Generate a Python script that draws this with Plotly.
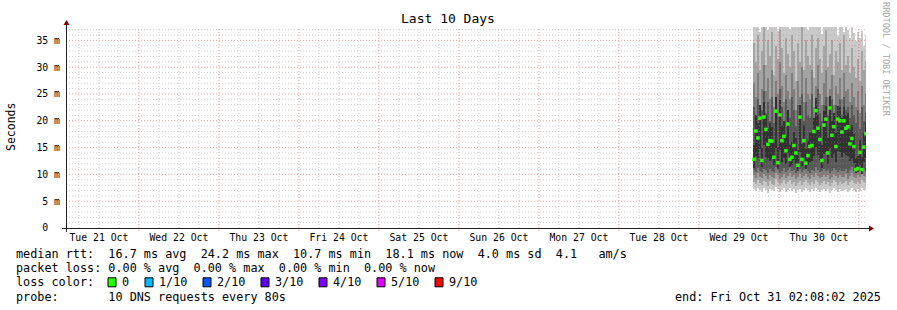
import plotly.graph_objects as go
import pandas as pd

# ---------------- DATA ----------------
range_start = "2025-10-21 02:08:02"
range_end = "2025-10-31 02:08:02"
label_days = ["2025-10-21", "2025-10-22", "2025-10-23", "2025-10-24", "2025-10-25",
              "2025-10-26", "2025-10-27", "2025-10-28", "2025-10-29", "2025-10-30"]
day_labels = ["Tue 21 Oct", "Wed 22 Oct", "Thu 23 Oct", "Fri 24 Oct", "Sat 25 Oct",
              "Sun 26 Oct", "Mon 27 Oct", "Tue 28 Oct", "Wed 29 Oct", "Thu 30 Oct"]
y_tick_vals = [0, 5, 10, 15, 20, 25, 30, 35]
y_tick_text = ["0\u00a0\u00a0", "5 m", "10 m", "15 m", "20 m", "25 m", "30 m", "35 m"]

data_start = "2025-10-29 16:12:00"
step_minutes = 36

# median rtt per column (ms)
median = [12.8, 18.1, 16.8, 20.5, 12.6, 20.7, 18.4, 15.6, 16.3, 16.2, 13.2, 21.8, 12.2, 21.1,
          16.3, 17.1, 14.4, 19.4, 12.8, 13.2, 15.4, 14.0, 11.7, 20.7, 12.8, 16.3, 12.1, 13.5,
          15.2, 15.4, 18.0, 21.9, 18.6, 16.5, 12.6, 19.2, 20.3, 14.0, 22.4, 17.3, 18.9, 15.2,
          20.3, 20.0, 17.9, 20.0, 18.6, 18.9, 15.7, 16.7, 15.2, 10.9, 11.1, 14.1, 10.9, 15.1, 17.6]

# smoke: sorted ping pairs (outermost p0/p9 ... innermost p4/p5), ms
p0 = [7.2, 6.9, 7.5, 7.0, 6.8, 7.4, 7.1, 6.6, 7.3, 7.0, 6.9, 7.6, 7.2, 6.7, 7.0, 7.4, 6.8, 7.1, 7.5,
      6.9, 7.2, 6.6, 7.0, 7.3, 6.8, 7.1, 7.4, 7.0, 6.7, 7.2, 6.9, 7.5, 7.1, 6.8, 7.0, 7.3, 6.9, 7.2,
      6.6, 7.0, 7.4, 7.1, 6.8, 7.2, 6.9, 7.0, 7.3, 6.7, 7.1, 7.5, 7.0, 6.8, 7.2, 6.9, 7.4, 7.1, 7.0]
p9 = [38, 38, 38, 36.5, 38, 38, 38, 37, 38, 38, 38, 38, 36.8, 38, 38, 38, 38, 38, 37.2, 38, 38,
      38, 38, 38, 38, 38, 38, 37.0, 38, 38, 38, 38, 38, 38, 36.2, 38, 38, 38, 38, 38, 37.5, 38,
      35.8, 38, 38, 36.5, 38, 37.0, 35.4, 38, 36.4, 34.8, 36.6, 35.5, 36.8, 33.9, 36.0]
p1 = [8.6, 8.2, 9.0, 8.4, 8.0, 8.8, 8.5, 7.9, 8.7, 8.3, 8.1, 9.1, 8.6, 8.0, 8.4, 8.9, 8.2, 8.5, 9.0,
      8.3, 8.6, 7.9, 8.4, 8.8, 8.1, 8.5, 8.9, 8.4, 8.0, 8.6, 8.3, 9.0, 8.5, 8.1, 8.4, 8.7, 8.3, 8.6,
      7.9, 8.4, 8.9, 8.5, 8.1, 8.6, 8.3, 8.4, 8.8, 8.0, 8.5, 9.0, 8.4, 8.2, 8.6, 8.3, 8.9, 8.5, 8.4]
p8 = [34.5, 31.0, 36.0, 29.5, 33.0, 37.5, 30.5, 35.0, 32.0, 36.5, 28.5, 34.0, 31.5, 37.0, 33.5,
      29.0, 35.5, 32.5, 30.0, 36.0, 33.0, 27.5, 34.5, 31.0, 37.5, 29.5, 35.0, 32.0, 30.5, 36.0,
      28.0, 33.5, 35.5, 31.5, 29.0, 34.0, 37.0, 30.0, 32.5, 35.0, 28.5, 33.0, 31.0, 34.5, 29.5,
      36.0, 30.5, 32.0, 29.0, 33.5, 30.0, 28.0, 31.5, 27.5, 33.0, 29.5, 31.0]
p2 = [9.8, 9.4, 10.2, 9.6, 9.3, 10.0, 9.7, 9.2, 9.9, 9.5, 9.4, 10.3, 9.8, 9.2, 9.6, 10.1, 9.4, 9.7,
      10.2, 9.5, 9.8, 9.1, 9.6, 10.0, 9.3, 9.7, 10.1, 9.6, 9.2, 9.8, 9.5, 10.2, 9.7, 9.3, 9.6, 9.9,
      9.5, 9.8, 9.1, 9.6, 10.1, 9.7, 9.3, 9.8, 9.5, 9.6, 10.0, 9.2, 9.7, 10.2, 9.6, 9.4, 9.8, 9.5,
      10.1, 9.7, 9.6]
p7 = [27.0, 24.5, 29.0, 23.0, 26.0, 30.5, 25.5, 28.0, 24.0, 29.5, 22.5, 27.5, 25.0, 31.0, 26.5,
      23.5, 28.5, 25.5, 24.0, 29.0, 26.0, 22.0, 27.5, 24.5, 30.0, 23.5, 28.0, 25.0, 24.0, 29.5,
      22.5, 26.5, 30.5, 25.0, 23.0, 27.0, 29.5, 24.5, 26.0, 28.5, 23.0, 26.5, 25.0, 28.0, 24.0,
      29.0, 25.5, 26.0, 23.5, 27.0, 24.5, 22.5, 25.5, 21.5, 26.5, 23.0, 25.0]
p3 = [10.9, 10.5, 11.2, 10.7, 10.4, 11.1, 10.8, 10.3, 11.0, 10.6, 10.5, 11.3, 10.9, 10.3, 10.7,
      11.2, 10.5, 10.8, 11.3, 10.6, 10.9, 10.2, 10.7, 11.1, 10.4, 10.8, 11.2, 10.7, 10.3, 10.9,
      10.6, 11.3, 10.8, 10.4, 10.7, 11.0, 10.6, 10.9, 10.2, 10.7, 11.2, 10.8, 10.4, 10.9, 10.6,
      10.7, 11.1, 10.3, 10.8, 11.3, 10.7, 10.5, 10.9, 10.6, 11.2, 10.8, 10.7]
p6 = [22.5, 21.0, 24.0, 20.5, 22.0, 25.5, 21.5, 23.5, 20.0, 24.5, 19.5, 23.0, 21.5, 26.0, 22.5,
      20.0, 24.0, 21.5, 20.5, 24.5, 22.0, 19.0, 23.0, 20.5, 25.0, 20.0, 23.5, 21.0, 20.5, 25.0,
      19.5, 22.5, 26.0, 21.5, 20.0, 23.0, 24.5, 21.0, 22.5, 24.0, 20.0, 23.0, 21.5, 24.0, 21.0,
      24.5, 22.0, 22.5, 20.5, 23.0, 21.0, 19.5, 22.0, 18.5, 22.5, 20.0, 21.5]
p4 = [11.2, 13.5, 13.0, 14.8, 11.3, 15.5, 13.2, 12.8, 12.5, 12.9, 11.8, 15.0, 11.0, 14.6, 12.4,
      13.0, 12.0, 14.0, 11.4, 11.7, 12.6, 12.0, 10.6, 14.2, 11.5, 12.8, 11.0, 11.8, 12.3, 12.5,
      13.4, 15.2, 13.6, 12.7, 11.2, 13.9, 14.1, 11.9, 15.0, 13.0, 13.8, 12.4, 14.3, 14.1, 13.2,
      14.0, 13.6, 13.5, 12.5, 12.9, 12.2, 10.2, 10.4, 11.8, 10.1, 12.3, 13.0]
p5 = [15.5, 21.0, 19.5, 23.0, 15.0, 23.5, 21.0, 18.5, 19.5, 18.8, 16.0, 24.5, 15.2, 23.8, 19.0,
      20.0, 17.2, 22.0, 15.5, 16.0, 18.0, 16.8, 14.5, 23.0, 15.6, 19.2, 14.8, 16.3, 17.8, 18.0,
      20.5, 24.2, 21.0, 19.0, 15.5, 21.8, 22.8, 16.8, 24.6, 20.0, 21.5, 17.8, 22.8, 22.5, 20.5,
      22.6, 21.0, 21.4, 18.2, 19.3, 17.6, 13.0, 13.5, 16.5, 13.2, 17.8, 19.8]

legend_lines = [
    "median rtt:  16.7 ms avg  24.2 ms max  10.7 ms min  18.1 ms now  4.0 ms sd  4.1   am/s",
    "packet loss: 0.00 % avg  0.00 % max  0.00 % min  0.00 % now",
]
loss_labels = ["0", "1/10", "2/10", "3/10", "4/10", "5/10", "9/10"]
loss_colors = ["#26ff00", "#00b8ff", "#0059ff", "#5e00ff", "#7e00ff", "#dd00ff", "#ff0000"]
probe_text = "probe:       10 DNS requests every 80s"
end_text = "end: Fri Oct 31 02:08:02 2025"
title_text = "Last 10 Days"
watermark = "RRDTOOL / TOBI OETIKER"

# ---------------- LAYOUT ----------------
W, H = 897, 310
ML, MR, MT, MB = 66, 31, 27, 82
PW = W - ML - MR
PH = H - MT - MB
MONO = "DejaVu Sans Mono"


def fx(x):
    return (x - ML) / PW


def fy(y):
    return (MT + PH - y) / PH


step_ms = step_minutes * 60 * 1000
t = pd.date_range(data_start, periods=len(median), freq=f"{step_minutes}min") + pd.Timedelta(minutes=step_minutes / 2)

fig = go.Figure()
bands = [(p0, p9, "#cacaca"), (p1, p8, "#a4a4a4"), (p2, p7, "#7e7e7e"),
         (p3, p6, "#585858"), (p4, p5, "#323232")]
for lo, hi, col in bands:
    fig.add_trace(go.Bar(x=t, y=[h - l for l, h in zip(lo, hi)], base=lo, width=step_ms,
                         marker=dict(color=col, line=dict(width=0)), hoverinfo="skip"))
fig.add_trace(go.Scatter(x=t, y=median, mode="markers",
                         marker=dict(symbol="square", size=3.5, color="#26ff00", line=dict(width=0)),
                         hoverinfo="skip"))

shapes = []
# grid (drawn above data as rrdtool does)
for v in range(1, 38):
    major = v % 5 == 0
    shapes.append(dict(type="line", xref="paper", yref="y", x0=0, x1=1, y0=v, y1=v, layer="above",
                       line=dict(color="rgba(222,80,80,0.55)" if major else "rgba(150,150,150,0.45)",
                                 width=1, dash="1px,2px")))
for g in pd.date_range("2025-10-21 06:00", "2025-10-31 00:00", freq="6h"):
    major = g.hour == 0
    shapes.append(dict(type="line", xref="x", yref="paper", x0=g, x1=g, y0=-0.015 if major else 0, y1=1,
                       layer="above",
                       line=dict(color="rgba(222,80,80,0.55)" if major else "rgba(150,150,150,0.45)",
                                 width=1, dash="1px,2px")))
# axes with arrows
shapes.append(dict(type="line", xref="paper", yref="paper", x0=fx(62), x1=fx(869), y0=fy(228.5), y1=fy(228.5),
                   line=dict(color="#212121", width=1), layer="above"))
shapes.append(dict(type="line", xref="paper", yref="paper", x0=fx(66.5), x1=fx(66.5), y0=fy(232), y1=fy(23),
                   line=dict(color="#212121", width=1), layer="above"))
shapes.append(dict(type="path", xref="paper", yref="paper",
                   path=f"M {fx(869)} {fy(225.5)} L {fx(874)} {fy(228.5)} L {fx(869)} {fy(231.5)} Z",
                   fillcolor="#800000", line=dict(width=0), layer="above"))
shapes.append(dict(type="path", xref="paper", yref="paper",
                   path=f"M {fx(63.5)} {fy(25)} L {fx(66.5)} {fy(20)} L {fx(69.5)} {fy(25)} Z",
                   fillcolor="#800000", line=dict(width=0), layer="above"))

ann = []
ann.append(dict(text=title_text, x=fx(448), y=fy(19), xref="paper", yref="paper", showarrow=False,
                xanchor="center", yanchor="middle", font=dict(family=MONO, size=13, color="black")))
ann.append(dict(text="Seconds", x=fx(11), y=fy(127), xref="paper", yref="paper", showarrow=False,
                textangle=-90, xanchor="center", yanchor="middle",
                font=dict(family=MONO, size=11.5, color="black")))
ann.append(dict(text=watermark, x=fx(886), y=fy(60), xref="paper", yref="paper", showarrow=False,
                textangle=90, xanchor="center", yanchor="middle",
                font=dict(family=MONO, size=8.6, color="#a8a8a8")))
line_y = [254, 268.3, 282.3, 296.5]
for i, s in enumerate(legend_lines):
    ann.append(dict(text=s, x=fx(14), y=fy(line_y[i]), xref="paper", yref="paper", showarrow=False,
                    xanchor="left", yanchor="middle", font=dict(family=MONO, size=11.8, color="black")))
ann.append(dict(text="loss color:", x=fx(14), y=fy(line_y[2]), xref="paper", yref="paper", showarrow=False,
                xanchor="left", yanchor="middle", font=dict(family=MONO, size=11.8, color="black")))
bx = 108
for lab, col in zip(loss_labels, loss_colors):
    shapes.append(dict(type="rect", xref="paper", yref="paper", x0=fx(bx), x1=fx(bx + 8),
                       y0=fy(line_y[2] - 4.5), y1=fy(line_y[2] + 4.5), fillcolor=col,
                       line=dict(color="black", width=1)))
    ann.append(dict(text=lab, x=fx(bx + 12), y=fy(line_y[2]), xref="paper", yref="paper", showarrow=False,
                    xanchor="left", yanchor="middle", font=dict(family=MONO, size=11.8, color="black")))
    bx += 8 + 6 + 7 * len(lab) + 16
ann.append(dict(text=probe_text, x=fx(14), y=fy(line_y[3]), xref="paper", yref="paper", showarrow=False,
                xanchor="left", yanchor="middle", font=dict(family=MONO, size=11.8, color="black")))
ann.append(dict(text=end_text, x=fx(883), y=fy(line_y[3]), xref="paper", yref="paper", showarrow=False,
                xanchor="right", yanchor="middle", font=dict(family=MONO, size=11.8, color="black")))

fig.update_layout(
    width=W, height=H, margin=dict(l=ML, r=MR, t=MT, b=MB, pad=0),
    paper_bgcolor="white", plot_bgcolor="white", showlegend=False, barmode="overlay", bargap=0,
    shapes=shapes, annotations=ann,
    xaxis=dict(type="date", range=[range_start, range_end], showgrid=False, zeroline=False, showline=False,
               tickvals=[pd.Timestamp(d) + pd.Timedelta(hours=12) for d in label_days], ticktext=day_labels,
               ticks="", tickfont=dict(family=MONO, size=9.8, color="black"), ticklabelstandoff=2),
    yaxis=dict(range=[0, 37.5], showgrid=False, zeroline=False, showline=False,
               tickvals=y_tick_vals, ticktext=y_tick_text, ticks="",
               tickfont=dict(family=MONO, size=9.8, color="black"), ticklabelstandoff=5),
)

fig.write_html("out.html")
